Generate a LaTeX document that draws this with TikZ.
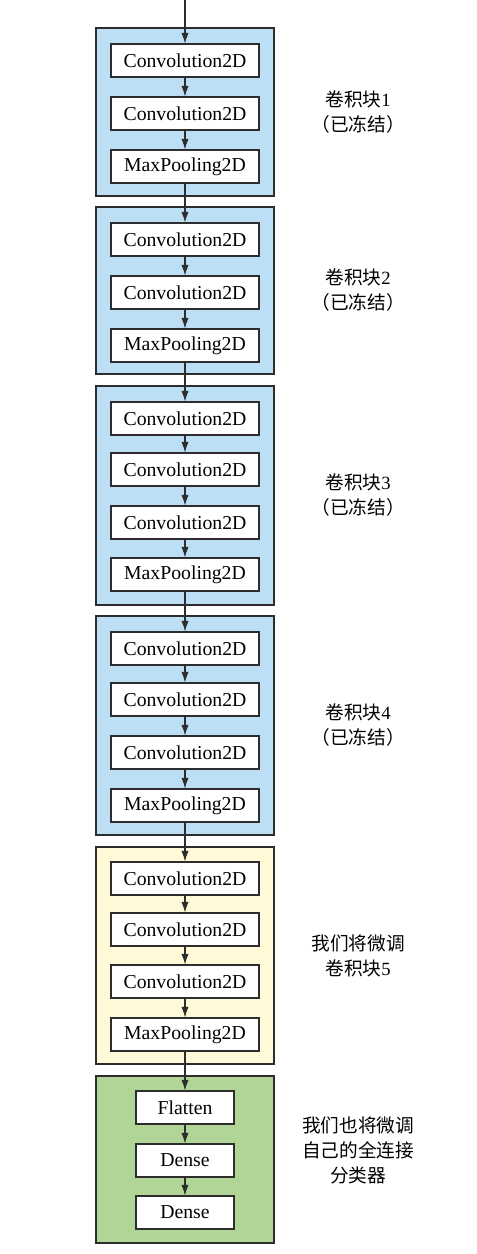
\documentclass[tikz,border=0pt]{standalone}
\usepackage{fontspec}
\setmainfont{Liberation Serif}
\newfontfamily\cjk{Noto Sans CJK SC}
\usetikzlibrary{arrows.meta}
\definecolor{fblue}{RGB}{189,223,245}
\definecolor{fyellow}{RGB}{255,249,216}
\definecolor{fgreen}{RGB}{177,213,151}
\definecolor{linec}{RGB}{45,45,45}
\begin{document}
\begin{tikzpicture}[x=0.75pt,y=-0.75pt,
  layer/.style={draw=linec, fill=white, line width=0.8pt, minimum width=111pt, minimum height=24.75pt, inner sep=0pt, font=\fontsize{14.8}{16}\selectfont},
  small/.style={layer, minimum width=73.5pt},
  blk/.style={draw=linec, line width=1.1pt, minimum width=133.5pt, inner sep=0pt},
  lbl/.style={align=center, font=\fontsize{14}{18.75}\selectfont},
  arr/.style={-{Latex[length=8pt,width=5.5pt]}, line width=0.8pt, draw=linec}]
\useasboundingbox (0,0) rectangle (477,1254);
% blocks
\node[blk, fill=fblue, minimum height=126pt] (b1) at (185,112) {};
\node[blk, fill=fblue, minimum height=125.25pt] (b2) at (185,290.5) {};
\node[blk, fill=fblue, minimum height=164.25pt] (b3) at (185,495.5) {};
\node[blk, fill=fblue, minimum height=164.25pt] (b4) at (185,725.5) {};
\node[blk, fill=fyellow, minimum height=162.75pt] (b5) at (185,955.5) {};
\node[blk, fill=fgreen, minimum height=125.25pt] (b6) at (185,1159.5) {};
% layers
\node[layer] (a1) at (185,60.5) {Convolution2D};
\node[layer] (a2) at (185,113.5) {Convolution2D};
\node[layer] (a3) at (185,166.5) {MaxPooling2D};
\node[layer] (c1) at (185,239.5) {Convolution2D};
\node[layer] (c2) at (185,292.5) {Convolution2D};
\node[layer] (c3) at (185,345.5) {MaxPooling2D};
\node[layer] (d1) at (185,418.5) {Convolution2D};
\node[layer] (d2) at (185,469.5) {Convolution2D};
\node[layer] (d3) at (185,522.5) {Convolution2D};
\node[layer] (d4) at (185,574.5) {MaxPooling2D};
\node[layer] (e1) at (185,648.5) {Convolution2D};
\node[layer] (e2) at (185,699.5) {Convolution2D};
\node[layer] (e3) at (185,752.5) {Convolution2D};
\node[layer] (e4) at (185,805.5) {MaxPooling2D};
\node[layer] (f1) at (185,878.5) {Convolution2D};
\node[layer] (f2) at (185,929.5) {Convolution2D};
\node[layer] (f3) at (185,981.5) {Convolution2D};
\node[layer] (f4) at (185,1034.5) {MaxPooling2D};
\node[small] (g1) at (185,1107.5) {Flatten};
\node[small] (g2) at (185,1160.5) {Dense};
\node[small] (g3) at (185,1212.5) {Dense};
% arrows
\coordinate (in) at (185,0);
\draw[arr] (in) -- (a1);
\draw[arr] (a1) -- (a2);
\draw[arr] (a2) -- (a3);
\draw[arr] (a3) -- (c1);
\draw[arr] (c1) -- (c2);
\draw[arr] (c2) -- (c3);
\draw[arr] (c3) -- (d1);
\draw[arr] (d1) -- (d2);
\draw[arr] (d2) -- (d3);
\draw[arr] (d3) -- (d4);
\draw[arr] (d4) -- (e1);
\draw[arr] (e1) -- (e2);
\draw[arr] (e2) -- (e3);
\draw[arr] (e3) -- (e4);
\draw[arr] (e4) -- (f1);
\draw[arr] (f1) -- (f2);
\draw[arr] (f2) -- (f3);
\draw[arr] (f3) -- (f4);
\draw[arr] (f4) -- (g1);
\draw[arr] (g1) -- (g2);
\draw[arr] (g2) -- (g3);
% labels
\node[lbl] (l1) at (358,112) {{\cjk 卷积块}1\\{\cjk （已冻结）}};
\node[lbl] (l2) at (358,290.5) {{\cjk 卷积块}2\\{\cjk （已冻结）}};
\node[lbl] (l3) at (358,495.5) {{\cjk 卷积块}3\\{\cjk （已冻结）}};
\node[lbl] (l4) at (358,725.5) {{\cjk 卷积块}4\\{\cjk （已冻结）}};
\node[lbl] (l5) at (358,955.5) {{\cjk 我们将微调}\\{\cjk 卷积块}5};
\node[lbl] (l6) at (358,1150) {{\cjk 我们也将微调}\\{\cjk 自己的全连接}\\{\cjk 分类器}};
\end{tikzpicture}
\end{document}
